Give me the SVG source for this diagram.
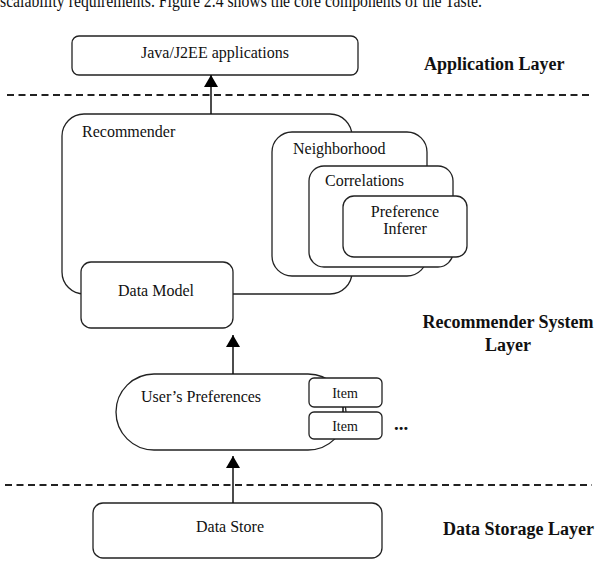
<svg xmlns="http://www.w3.org/2000/svg" width="600" height="562" viewBox="0 0 600 562">
<defs>
<style>
text{font-family:"Liberation Serif","Times New Roman",serif;fill:#111;}
.lbl{font-size:16px;}
.sm{font-size:14px;}
.layer{font-size:18px;font-weight:bold;}
.box{fill:#fff;stroke:#222;stroke-width:1.3;}
.dash{stroke:#222;stroke-width:2;stroke-dasharray:7 4.5;fill:none;}
.conn{stroke:#111;stroke-width:1.5;fill:none;}
</style>
<marker id="arr" viewBox="0 0 12 14" refX="12" refY="7" markerWidth="12" markerHeight="14" markerUnits="userSpaceOnUse" orient="auto">
<path d="M0,0 L12,7 L0,14 Z" fill="#000"/>
</marker>
</defs>
<rect width="600" height="562" fill="#fff"/>
<text x="0" y="7" font-size="18" textLength="482" lengthAdjust="spacingAndGlyphs">scalability requirements. Figure 2.4 shows the core components of the Taste.</text>

<g id="separators">
<line class="dash" x1="7" y1="95" x2="592" y2="95"/>
<line class="dash" x1="5" y1="485" x2="592" y2="485"/>
</g>

<g id="java">
<rect class="box" x="72" y="36" width="286" height="39" rx="7"/>
<text class="lbl" x="215" y="58" text-anchor="middle">Java/J2EE applications</text>
</g>

<g id="recommender">
<rect class="box" x="62" y="114" width="290" height="180" rx="22"/>
<text class="lbl" x="82" y="137">Recommender</text>
</g>

<g id="datamodel">
<rect class="box" x="81" y="262" width="152" height="66" rx="10"/>
<text class="lbl" x="156" y="296" text-anchor="middle">Data Model</text>
</g>

<g id="neighborhood">
<rect class="box" x="272" y="132" width="155" height="144" rx="20"/>
<text class="lbl" x="293" y="154">Neighborhood</text>
</g>

<g id="correlations">
<rect class="box" x="309" y="166" width="144" height="101" rx="15"/>
<text class="lbl" x="325" y="186">Correlations</text>
</g>

<g id="inferer">
<rect class="box" x="343" y="196" width="124" height="61" rx="11"/>
<text class="lbl" x="405" y="217" text-anchor="middle">Preference</text>
<text class="lbl" x="405" y="234" text-anchor="middle">Inferer</text>
</g>

<g id="userprefs">
<rect class="box" x="116" y="374" width="230" height="76" rx="38"/>
<text class="lbl" x="141" y="402">User’s Preferences</text>
</g>

<g id="item1">
<rect class="box" x="309" y="378" width="73" height="29" rx="5"/>
<text class="sm" x="345" y="398" text-anchor="middle">Item</text>
</g>

<g id="item2">
<rect class="box" x="309" y="412" width="73" height="27" rx="5"/>
<text class="sm" x="345" y="431" text-anchor="middle">Item</text>
</g>

<g id="ellipsis">
<text x="394" y="430" font-size="19" font-weight="bold">...</text>
</g>

<g id="datastore">
<rect class="box" x="93" y="503" width="289" height="55" rx="10"/>
<text class="lbl" x="230" y="532" text-anchor="middle">Data Store</text>
</g>

<g id="layers">
<text class="layer" x="424" y="70">Application Layer</text>
<text class="layer" x="508" y="328" text-anchor="middle">Recommender System</text>
<text class="layer" x="508" y="351" text-anchor="middle">Layer</text>
<text class="layer" x="443" y="535">Data Storage Layer</text>
</g>

<g id="connectors">
<line class="conn" x1="211" y1="114" x2="211" y2="75" marker-end="url(#arr)"/>
<line class="conn" x1="233" y1="374" x2="233" y2="335" marker-end="url(#arr)"/>
<line class="conn" x1="233" y1="503" x2="233" y2="456" marker-end="url(#arr)"/>
<line class="conn" x1="343" y1="407" x2="343" y2="412"/>
</g>
</svg>
